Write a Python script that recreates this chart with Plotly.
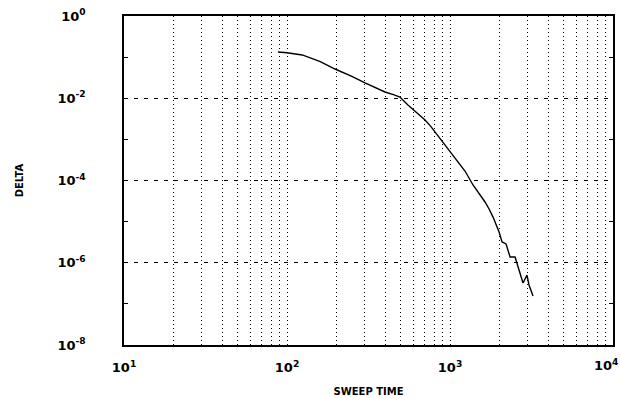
import plotly.graph_objects as go

# Convergence history: residual DELTA against sweep time (log-log)
sweep_time = [88, 100, 124, 160, 197, 250, 301, 350, 399, 450, 493, 552, 620, 703,
              760, 809, 870, 932, 1020, 1119, 1236, 1384, 1500, 1640, 1740, 1837,
              2000, 2086, 2208, 2336, 2507, 2614, 2805, 2967, 3053, 3231]
delta = [0.133, 0.128, 0.113, 0.078, 0.0514, 0.034, 0.0235, 0.0180, 0.0142, 0.0122,
         0.0107, 0.00686, 0.0045, 0.00296, 0.0021, 0.00151, 0.00108, 7.3e-4,
         4.6e-4, 2.82e-4, 1.70e-4, 7.78e-5, 5.0e-5, 3.0e-5, 2.0e-5, 1.29e-5,
         5.6e-6, 3.2e-6, 2.86e-6, 1.38e-6, 1.38e-6, 7.9e-7, 3.22e-7, 5.0e-7,
         2.88e-7, 1.55e-7]

x_major = [10, 100, 1000, 10000]
x_major_text = ["10<sup>1</sup>", "10<sup>2</sup>", "10<sup>3</sup>", "10<sup>4</sup>"]
x_minor = [k * d for d in (10, 100, 1000) for k in range(2, 10)]

y_major = [1, 1e-2, 1e-4, 1e-6, 1e-8]
y_major_text = ["10<sup>0</sup>", "10<sup>-2</sup>", "10<sup>-4</sup>",
                "10<sup>-6</sup>", "10<sup>-8</sup>"]
y_minor = [1e-1, 1e-3, 1e-5, 1e-7]

TICK_FONT = dict(family="DejaVu Sans", size=13, color="black", weight="bold")
TITLE_FONT = dict(family="DejaVu Sans", size=10, color="black", weight="bold")
CLEAR = "rgba(0,0,0,0)"

fig = go.Figure()
fig.add_trace(go.Scatter(
    x=sweep_time, y=delta, mode="lines",
    line=dict(color="black", width=1.4),
    showlegend=False,
))

fig.update_xaxes(
    type="log", range=[1, 4], automargin=False,
    tickvals=x_major, ticktext=x_major_text,
    ticks="outside", ticklen=10, tickcolor=CLEAR,
    showgrid=True, gridcolor="black", gridwidth=1, griddash="1px,3px",
    minor=dict(tickvals=x_minor, showgrid=True, gridcolor="black",
               gridwidth=1, griddash="1px,3px", ticks=""),
    showline=True, linecolor="black", linewidth=1.5, mirror=True,
    tickfont=TICK_FONT,
    title=dict(text="SWEEP TIME", font=TITLE_FONT, standoff=14),
    zeroline=False,
)
fig.update_yaxes(
    type="log", range=[-8, 0], automargin=False,
    tickvals=y_major, ticktext=y_major_text,
    ticks="outside", ticklen=34, tickcolor=CLEAR,
    showgrid=True, gridcolor="black", gridwidth=1, griddash="4px,6px",
    minor=dict(tickvals=y_minor, ticks="inside", ticklen=4,
               tickcolor="black", showgrid=False),
    showline=True, linecolor="black", linewidth=1.5, mirror="ticks",
    tickfont=TICK_FONT,
    title=dict(text="DELTA", font=TITLE_FONT, standoff=32),
    zeroline=False,
)

# The last decade label sits at the right page edge, so place it by hand
fig.add_annotation(
    x=1, xref="paper", xanchor="right", xshift=7,
    y=0, yref="paper", yanchor="top", yshift=-10,
    text=x_major_text[-1], showarrow=False, font=TICK_FONT,
)

fig.update_layout(
    width=621, height=398,
    margin=dict(l=124, r=8, t=16, b=53),
    paper_bgcolor="white", plot_bgcolor="white",
)

fig.write_html("out.html")
